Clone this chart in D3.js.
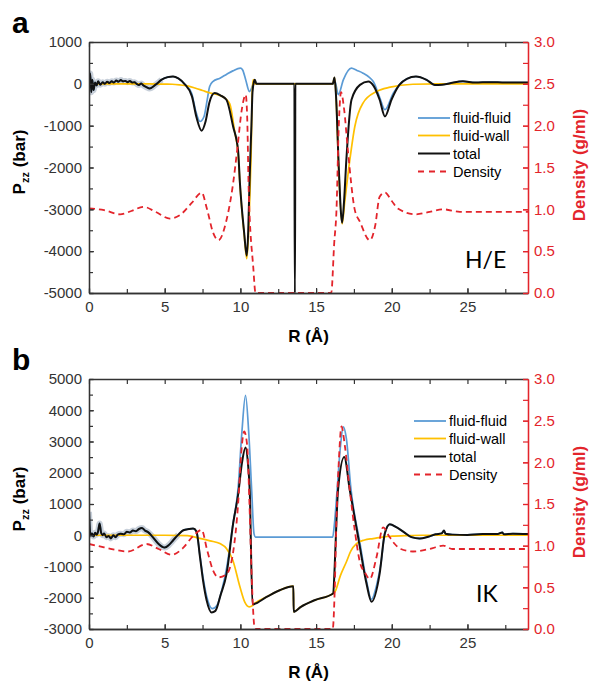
<!DOCTYPE html>
<html>
<head>
<meta charset="utf-8">
<script src="https://cdn.jsdelivr.net/npm/d3@7"></script>
<style>
  body { margin: 0; background: #fff; }
  svg { display: block; font-family: "Liberation Sans", Arial, sans-serif; }
</style>
</head>
<body>
<svg id="chart" width="590" height="682"></svg>
<script>
// ---- data: [R (Å), value] ----
const aTotal = [[0,-50],[0.08,250],[0.15,-200],[0.22,100],[0.3,-150],[0.4,30],[0.5,-40],[0.6,60],[0.75,-20],[0.9,40],[1.05,0],[1.2,50],[1.35,20],[1.5,60],[1.65,30],[1.8,80],[1.95,50],[2.1,90],[2.25,60],[2.4,70],[2.55,40],[2.7,70],[2.85,30],[3.0,40],[3.15,0],[3.3,-30],[3.45,10],[3.6,-40],[3.8,-80],[4.0,-110],[4.4,-20],[4.8,100],[5.2,160],[5.55,175],[5.9,130],[6.3,0],[6.8,-300],[7.1,-800],[7.44,-1120],[7.7,-900],[7.95,-450],[8.3,-220],[8.7,-280],[9.08,-380],[9.52,-1020],[9.85,-1600],[9.97,-2370],[10.25,-3560],[10.42,-4110],[10.52,-3500],[10.6,-2400],[10.68,-1500],[10.73,-1000],[10.8,-200],[10.9,60],[10.96,100],[11.05,0],[13.57,0],[13.59,-5000],[13.61,-5000],[13.63,0],[16.1,0],[16.22,150],[16.32,-300],[16.5,-2000],[16.72,-3320],[16.85,-2800],[17.0,-1820],[17.34,-380],[17.9,-25],[18.45,55],[18.8,-50],[19.2,-380],[19.55,-780],[19.98,-380],[20.5,-25],[21.0,120],[21.6,175],[22.3,95],[22.85,-25],[23.3,-20],[23.8,10],[24.7,60],[25.5,30],[26.5,40],[27.5,30],[29,30]];
const aFluidFluid = [[6.3,0],[6.78,-225],[7.05,-650],[7.33,-900],[7.6,-780],[7.8,-400],[7.97,-65],[8.2,60],[8.65,135],[9.1,230],[9.5,310],[10.0,375],[10.15,330],[10.35,100],[10.6,-185],[10.8,-50],[10.96,80],[11.05,0],[16.1,0],[16.25,55],[16.47,-260],[16.8,95],[17.33,375],[17.7,320],[18.1,255],[18.5,160],[18.78,55],[19.2,-320],[19.55,-620],[20.1,-225],[20.5,-25]];
const aFluidWall = [[0,0],[2,0],[4,-3],[5,-8],[5.5,-10],[6.0,-25],[6.5,-50],[7.0,-100],[7.5,-160],[8.0,-220],[8.5,-260],[9.0,-350],[9.3,-480],[9.64,-1180],[9.85,-1650],[9.97,-2400],[10.25,-3600],[10.42,-4180],[10.55,-3500],[10.65,-2400],[10.72,-1500],[10.78,-200],[10.85,100],[10.95,0],[16.1,0],[16.22,150],[16.32,-300],[16.5,-2100],[16.72,-3350],[16.9,-2800],[17.23,-1820],[17.56,-1020],[18.1,-460],[19.0,-183],[19.9,-80],[21.4,-10],[23,0],[29,0]];
const aDensity = [[0,1.01],[1,0.99],[2.05,0.94],[2.8,0.98],[3.6,1.03],[4.4,0.97],[5.35,0.89],[6.0,0.93],[6.8,1.08],[7.44,1.2],[7.8,1.0],[8.2,0.72],[8.55,0.63],[9.08,0.87],[9.52,1.31],[9.79,1.71],[10.1,2.2],[10.35,2.37],[10.45,2.1],[10.55,1.23],[10.85,0.31],[11.0,0],[16.0,0],[16.2,0.6],[16.35,1.0],[16.5,2.0],[16.65,2.4],[16.85,2.2],[17.1,1.71],[17.55,1.0],[17.9,0.85],[18.55,0.63],[18.9,0.8],[19.2,1.15],[19.55,1.2],[20.0,1.1],[20.4,1.01],[21.6,0.94],[22.5,0.97],[23.4,1.0],[24.5,0.97],[26,0.97],[29,0.97]];

const bTotal = [[0,750],[0.04,300],[0.1,0],[0.2,60],[0.3,-40],[0.4,80],[0.5,20],[0.6,120],[0.7,380],[0.8,80],[0.9,0],[1.0,60],[1.15,-60],[1.3,-20],[1.45,-100],[1.6,0],[1.75,-60],[1.9,20],[2.1,50],[2.3,30],[2.5,110],[2.7,90],[2.9,150],[3.1,130],[3.3,200],[3.5,230],[3.7,150],[3.9,100],[4.2,-50],[4.6,-280],[5.0,-395],[5.3,-300],[5.56,-160],[5.9,20],[6.23,160],[6.6,200],[6.88,215],[7.1,120],[7.33,-690],[7.55,-1500],[7.77,-2080],[8.1,-2470],[8.35,-2420],[8.7,-1900],[9.09,-1227],[9.52,373],[9.85,1300],[10.1,2300],[10.34,2805],[10.5,2300],[10.62,1400],[10.8,-2210],[11.73,-1973],[12.6,-1760],[13.5,-1630],[13.52,-2450],[14.0,-2290],[14.9,-2080],[16.13,-1865],[16.23,-1000],[16.34,373],[16.45,1440],[16.86,2505],[17.23,1440],[17.89,-373],[18.33,-1547],[18.66,-2130],[19.2,-1227],[19.54,53],[19.87,350],[20.3,260],[20.8,100],[21.3,-60],[21.85,-106],[22.4,-50],[22.9,30],[23.3,60],[23.45,150],[23.55,50],[24,20],[25,10],[26,40],[27,40],[27.3,90],[27.4,30],[28,50],[29,40]];
const bFluidFluid = [[7.1,120],[7.33,-650],[7.55,-1400],[7.77,-1950],[8.15,-2350],[8.45,-2250],[8.8,-1700],[9.09,-1050],[9.52,400],[9.85,1500],[10.1,3300],[10.34,4480],[10.55,3300],[10.75,1400],[10.9,50],[11.0,-60],[16.1,-60],[16.2,300],[16.39,1440],[16.6,2800],[16.8,3470],[17.0,3100],[17.3,1500],[17.9,-250],[18.33,-1450],[18.66,-2050],[19.0,-1600],[19.3,-850],[19.54,53]];
const bFluidWall = [[0,0],[5,0],[6.5,-10],[7.33,-100],[8.0,-180],[8.65,-267],[9.09,-430],[9.5,-800],[9.97,-1650],[10.3,-2150],[10.58,-2290],[10.8,-2250],[10.9,-2200],[11.73,-1973],[12.6,-1760],[13.5,-1630],[13.52,-2450],[14.0,-2290],[14.9,-2080],[16.13,-1865],[16.3,-1760],[16.6,-1300],[17.0,-855],[17.3,-500],[17.67,-267],[18.2,-150],[18.77,-107],[19.5,-50],[20,-30],[21,-10],[22,0],[29,0]];
const bDensity = [[0,1.02],[1,0.98],[2.6,0.93],[3.8,1.02],[4.6,0.96],[5.46,0.89],[6.2,0.97],[6.9,1.12],[7.44,1.19],[7.8,0.95],[8.2,0.7],[8.54,0.62],[9.09,0.66],[9.52,0.92],[9.85,1.5],[10.05,2.1],[10.25,2.37],[10.45,2.2],[10.6,1.5],[10.74,0.66],[10.96,0],[16.1,0],[16.23,0.46],[16.34,1.26],[16.5,2.0],[16.68,2.43],[16.9,2.2],[17.23,1.66],[17.56,1.18],[17.9,0.8],[18.22,0.68],[18.55,0.6],[18.99,0.86],[19.43,1.22],[19.8,1.12],[20.2,1.02],[20.6,0.96],[21.4,0.93],[22.5,0.96],[23.4,1.0],[24.0,0.96],[26,0.96],[29,0.96]];

const xTicks = [0, 5, 10, 15, 20, 25];
const aPTicks = [1000, 0, -1000, -2000, -3000, -4000, -5000];
const bPTicks = [5000, 4000, 3000, 2000, 1000, 0, -1000, -2000, -3000];
const densTicks = [0, 0.5, 1.0, 1.5, 2.0, 2.5, 3.0];
const legendNames = ["fluid-fluid", "fluid-wall", "total", "Density"];

const colBlue = "#5b9bd5", colYellow = "#ffc000", colBlack = "#111", colRed = "#e3242b";

const svg = d3.select("#chart");

const panels = [
  { tag: "a", label: "H/E", top: 42, bottom: 293, pDomain: [-5000, 1000], pTicks: aPTicks,
    total: aTotal, ff: aTotal.filter(d => d[0] < 6.3).concat(aFluidFluid, aTotal.filter(d => d[0] > 20.5)),
    fw: aFluidWall, dens: aDensity, noiseEnd: 5.0, legendY: 118, legendX: 418, labelXY: [465, 268] },
  { tag: "b", label: "IK", top: 379, bottom: 629, pDomain: [-3000, 5000], pTicks: bPTicks,
    total: bTotal, ff: bTotal.filter(d => d[0] < 7.1).concat(bFluidFluid, bTotal.filter(d => d[0] > 19.54)),
    fw: bFluidWall, dens: bDensity, noiseEnd: 6.0, legendY: 421, legendX: 414, labelXY: [476, 602] }
];

const left = 89, right = 528;
const intFmt = d => String(d);   // plain hyphen minus like the original

panels.forEach((p, pi) => {
  const x = d3.scaleLinear().domain([0, 29]).range([left, right]);
  const y = d3.scaleLinear().domain(p.pDomain).range([p.bottom, p.top]);
  const yD = d3.scaleLinear().domain([0, 3]).range([p.bottom, p.top]);
  const g = svg.append("g");

  const clipId = "clip" + pi;
  svg.append("clipPath").attr("id", clipId).append("rect")
    .attr("x", left).attr("y", p.top - 2).attr("width", right - left).attr("height", p.bottom - p.top + 4);

  const line = d3.line().x(d => x(d[0])).y(d => y(d[1])).curve(d3.curveMonotoneX);
  const lineD = d3.line().x(d => x(d[0])).y(d => yD(d[1])).curve(d3.curveMonotoneX);

  const plot = g.append("g").attr("clip-path", "url(#" + clipId + ")");
  // grey error band near the centre
  plot.append("path").datum(p.total.filter(d => d[0] <= p.noiseEnd))
    .attr("d", line).attr("fill", "none").attr("stroke", "#9aaabb").attr("stroke-width", 6).attr("opacity", 0.55);
  plot.append("path").datum(p.ff).attr("d", line).attr("fill", "none").attr("stroke", colBlue).attr("stroke-width", 1.7);
  plot.append("path").datum(p.fw).attr("d", line).attr("fill", "none").attr("stroke", colYellow).attr("stroke-width", 1.7);
  plot.append("path").datum(p.total).attr("d", line).attr("fill", "none").attr("stroke", colBlack).attr("stroke-width", 2);
  plot.append("path").datum(p.dens).attr("d", lineD).attr("fill", "none").attr("stroke", colRed)
    .attr("stroke-width", 1.8).attr("stroke-dasharray", "6,4");

  // axes (inward ticks)
  const minorX = d3.range(0, 29, 2.5);
  const axCol = "#333";
  const styleAx = (sel, col) => {
    sel.select(".domain").attr("stroke", col).attr("stroke-width", 1.3);
    sel.selectAll("line").attr("stroke", col).attr("stroke-width", 1.2);
    sel.selectAll("text").attr("fill", col).style("font-size", "15px").style("font-family", "Liberation Sans, Arial, sans-serif");
  };
  g.append("g").attr("transform", "translate(0," + p.bottom + ")")
    .call(d3.axisBottom(x).tickValues(minorX).tickSize(-4).tickSizeOuter(0).tickFormat(""))
    .call(s => styleAx(s, axCol));
  g.append("g").attr("transform", "translate(0," + p.bottom + ")")
    .call(d3.axisBottom(x).tickValues(xTicks).tickSize(-5).tickSizeOuter(0).tickPadding(8).tickFormat(intFmt))
    .call(s => styleAx(s, axCol));
  g.append("g").attr("transform", "translate(0," + p.top + ")")
    .call(d3.axisTop(x).tickValues(minorX).tickSize(-5).tickSizeOuter(0).tickFormat(""))
    .call(s => styleAx(s, axCol));
  g.append("g").attr("transform", "translate(" + left + ",0)")
    .call(d3.axisLeft(y).tickValues(d3.range(p.pDomain[0], p.pDomain[1] + 1, 500)).tickSize(-4).tickSizeOuter(0).tickFormat(""))
    .call(s => styleAx(s, axCol));
  g.append("g").attr("transform", "translate(" + left + ",0)")
    .call(d3.axisLeft(y).tickValues(p.pTicks).tickSize(-5).tickSizeOuter(0).tickPadding(7).tickFormat(intFmt))
    .call(s => styleAx(s, axCol));
  g.append("g").attr("transform", "translate(" + right + ",0)")
    .call(d3.axisRight(yD).tickValues(d3.range(0, 3.01, 0.25)).tickSize(-5).tickSizeOuter(0).tickPadding(6).tickFormat(""))
    .call(s => styleAx(s, colRed));
  g.append("g").attr("transform", "translate(" + right + ",0)")
    .call(d3.axisRight(yD).tickValues(densTicks).tickSize(-5).tickSizeOuter(0).tickPadding(6).tickFormat(d3.format(".1f")))
    .call(s => styleAx(s, colRed));

  // axis titles
  g.append("text").attr("x", (left + right) / 2).attr("y", p.bottom + 49)
    .attr("text-anchor", "middle").style("font-weight", "bold").style("font-size", "17px").text("R (Å)");
  const pt = g.append("text").attr("transform", "translate(25," + (p.top + 120) + ") rotate(-90)")
    .attr("text-anchor", "middle").style("font-weight", "bold").style("font-size", "17px");
  pt.append("tspan").text("P");
  pt.append("tspan").attr("dy", 4).style("font-size", "11px").text("zz");
  pt.append("tspan").attr("dy", -4).text(" (bar)");
  g.append("text").attr("transform", "translate(585," + (p.top + 123) + ") rotate(-90)")
    .attr("text-anchor", "middle").attr("fill", colRed).style("font-weight", "bold").style("font-size", "17px")
    .text("Density (g/ml)");

  // panel letter
  g.append("text").attr("x", 12).attr("y", p.top - 9).style("font-weight", "bold").style("font-size", "30px").text(p.tag);

  // sample label
  g.append("text").attr("x", p.labelXY[0]).attr("y", p.labelXY[1])
    .style("font-family", "Lato, 'Open Sans', sans-serif").style("font-size", "23px").text(p.label);

  // legend
  const legCols = [colBlue, colYellow, colBlack, colRed];
  const rowGap = [0, 17.5, 35.5, 53.5];
  legendNames.forEach((name, i) => {
    const ly = p.legendY + rowGap[i];
    g.append("line").attr("x1", p.legendX).attr("x2", p.legendX + 32).attr("y1", ly).attr("y2", ly)
      .attr("stroke", legCols[i]).attr("stroke-width", i === 2 ? 2 : 1.8)
      .attr("stroke-dasharray", i === 3 ? "6,5" : null);
    g.append("text").attr("x", p.legendX + 35).attr("y", ly + 5).style("font-size", "14.5px").text(name);
  });
});
</script>
</body>
</html>
